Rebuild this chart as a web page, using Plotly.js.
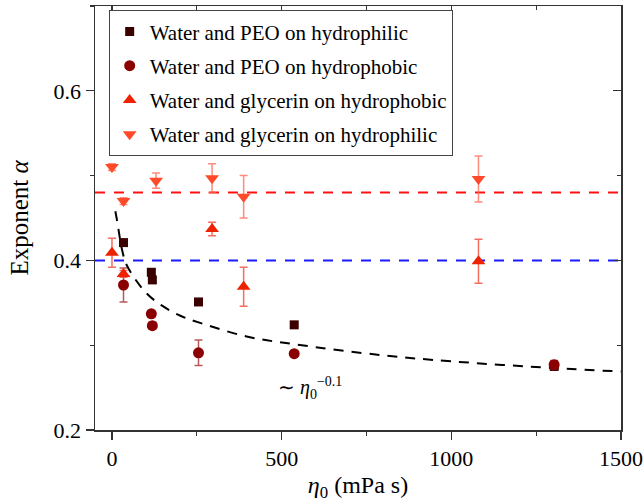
<!DOCTYPE html>
<html>
<head>
<meta charset="utf-8">
<script src="https://cdn.plot.ly/plotly-3.0.1.min.js"></script>
<style>html,body{margin:0;padding:0;background:#fff;}#chart{width:644px;height:504px;}</style>
</head>
<body>
<div id="chart"></div>
<script>
// Water and PEO on hydrophilic (squares)
var peoPhilX = [34, 116, 119, 255, 537, 1303];
var peoPhilY = [0.421, 0.386, 0.377, 0.351, 0.324, 0.275];
var peoPhilErr = [0.003, 0.003, 0.003, 0.002, 0.002, 0.004];
// Water and PEO on hydrophobic (circles)
var peoPhobX = [34, 116, 119, 255, 537, 1303];
var peoPhobY = [0.371, 0.337, 0.323, 0.291, 0.290, 0.277];
var peoPhobErr = [0.020, 0.004, 0.004, 0.015, 0.003, 0.005];
// Water and glycerin on hydrophobic (up triangles)
var glyPhobX = [0, 34, 295, 388, 1080];
var glyPhobY = [0.409, 0.384, 0.437, 0.369, 0.399];
var glyPhobErr = [0.017, 0.004, 0.008, 0.023, 0.026];
// Water and glycerin on hydrophilic (down triangles)
var glyPhilX = [0, 34, 130, 295, 388, 1080];
var glyPhilY = [0.510, 0.470, 0.494, 0.497, 0.475, 0.496];
var glyPhilErr = [0.004, 0.004, 0.009, 0.017, 0.025, 0.027];
// guide curve ~ eta0^-0.1
var curveX = [10, 15, 30, 44, 100, 150, 200, 262, 400, 540, 800, 1000, 1300, 1500];
var curveY = [0.458, 0.447, 0.412, 0.394, 0.362, 0.346, 0.335, 0.326, 0.310, 0.301, 0.288, 0.281, 0.273, 0.269];
// horizontal reference lines
var hLineX = [-50, 1500];
var redLevel = 0.48;
var blueLevel = 0.40;
// axis ticks
var xTicks = [0, 500, 1000, 1500];
var yTicks = [0.2, 0.4, 0.6];
var legendNames = ["Water and PEO on hydrophilic", "Water and PEO on hydrophobic",
                   "Water and glycerin on hydrophobic", "Water and glycerin on hydrophilic"];

var FONT = "Liberation Serif, Times New Roman, serif";

function errStyle(arr, col) {
  return {type: 'data', array: arr, visible: true, color: col, thickness: 1.5, width: 4};
}

var traces = [
  {x: hLineX, y: [redLevel, redLevel], mode: 'lines', line: {color: '#ff1010', width: 2, dash: '10px,9px'}, showlegend: false, hoverinfo: 'skip'},
  {x: hLineX, y: [blueLevel, blueLevel], mode: 'lines', line: {color: '#1a1aff', width: 2, dash: '10px,9px'}, showlegend: false, hoverinfo: 'skip'},
  {x: curveX, y: curveY, mode: 'lines', line: {color: '#000', width: 2, dash: '10px,8px', shape: 'spline'}, showlegend: false, hoverinfo: 'skip'},
  {x: peoPhilX, y: peoPhilY, name: legendNames[0], mode: 'markers', legendgroup: 'a',
   marker: {symbol: 'square', size: 9, color: '#3a0000'}, error_y: errStyle(peoPhilErr, 'rgba(58,0,0,0.7)')},
  {x: peoPhobX, y: peoPhobY, name: legendNames[1], mode: 'markers', legendgroup: 'b',
   marker: {symbol: 'circle', size: 11, color: '#8b0000'}, error_y: errStyle(peoPhobErr, 'rgba(150,20,20,0.7)')},
  {x: glyPhobX, y: glyPhobY, name: legendNames[2], mode: 'markers', legendgroup: 'c',
   marker: {symbol: 'triangle-up', size: 12, color: '#ec2200'}, error_y: errStyle(glyPhobErr, 'rgba(240,60,40,0.75)')},
  {x: glyPhilX, y: glyPhilY, name: legendNames[3], mode: 'markers', legendgroup: 'd',
   marker: {symbol: 'triangle-down', size: 12, color: '#ff4a2a'}, error_y: errStyle(glyPhilErr, 'rgba(255,100,80,0.75)')},
  {x: [], y: [], xaxis: 'x2', yaxis: 'y2', showlegend: false, hoverinfo: 'skip'}
];

var axCommon = {
  showgrid: false, zeroline: false, showline: true, linecolor: '#333', linewidth: 1.5,
  ticks: 'outside', ticklen: 8, tickwidth: 1.2, tickcolor: '#333',
  tickfont: {family: FONT, size: 22, color: '#000'}
};

var layout = {
  width: 644, height: 504,
  margin: {l: 95, r: 23, t: 6, b: 74},
  paper_bgcolor: '#fff', plot_bgcolor: '#fff',
  font: {family: FONT, size: 21, color: '#000'},
  showlegend: true,
  legend: {x: 0.026, y: 0.99, xanchor: 'left', yanchor: 'top', bgcolor: '#fff',
           bordercolor: '#444', borderwidth: 1, font: {family: FONT, size: 21, color: '#000'},
           tracegroupgap: 4, traceorder: 'grouped'},
  xaxis: Object.assign({}, axCommon, {
    range: [-50, 1500], tickvals: xTicks, ticktext: xTicks.map(String),
    minor: {dtick: 250, tick0: 0, ticks: 'outside', ticklen: 4, tickwidth: 1.2, tickcolor: '#333'},
    title: {text: '<i>η</i><sub>0</sub> (mPa s)', font: {family: FONT, size: 24}, standoff: 6}
  }),
  yaxis: Object.assign({}, axCommon, {
    range: [0.2, 0.7], tickvals: yTicks, ticktext: yTicks.map(function(v){return v.toFixed(1);}),
    minor: {dtick: 0.1, tick0: 0.2, ticks: 'outside', ticklen: 4, tickwidth: 1.2, tickcolor: '#333'},
    title: {text: 'Exponent <i>α</i>', font: {family: FONT, size: 25}, standoff: 18}
  }),
  xaxis2: {overlaying: 'x', side: 'top', anchor: 'y', range: [-50, 1500], showgrid: false, zeroline: false,
    showline: true, linecolor: '#333', linewidth: 1.5, ticks: 'inside', ticklen: 8, tickwidth: 1.2, tickcolor: '#333',
    tickvals: xTicks, showticklabels: false,
    minor: {dtick: 250, tick0: 0, ticks: 'inside', ticklen: 4, tickwidth: 1.2, tickcolor: '#333'}},
  yaxis2: {overlaying: 'y', side: 'right', anchor: 'x', range: [0.2, 0.7], showgrid: false, zeroline: false,
    showline: true, linecolor: '#333', linewidth: 1.5, ticks: 'inside', ticklen: 8, tickwidth: 1.2, tickcolor: '#333',
    tickvals: yTicks, showticklabels: false,
    minor: {dtick: 0.1, tick0: 0.2, ticks: 'inside', ticklen: 4, tickwidth: 1.2, tickcolor: '#333'}},
  annotations: [{
    x: 584, y: 0.249, xref: 'x', yref: 'y', showarrow: false,
    text: '∼ <i>η</i><sub>0</sub><sup>−0.1</sup>', font: {family: FONT, size: 20, color: '#000'}
  }]
};

Plotly.newPlot('chart', traces, layout, {staticPlot: true, displayModeBar: false});
</script>
</body>
</html>
